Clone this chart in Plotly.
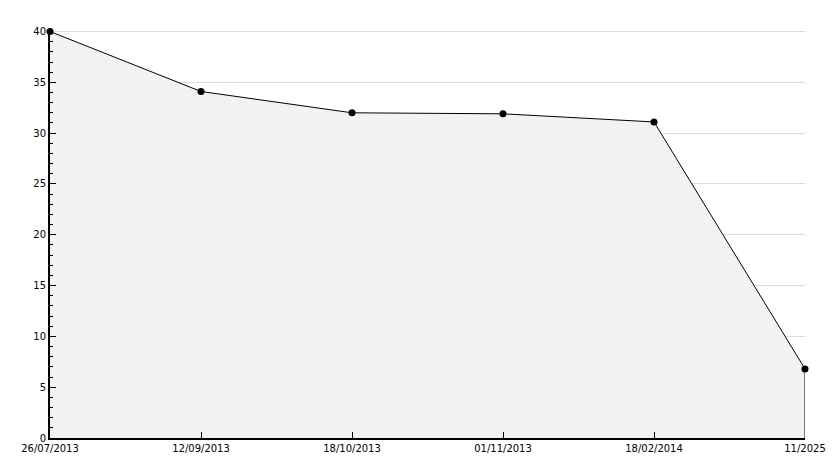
import plotly.graph_objects as go

dates = ["26/07/2013", "12/09/2013", "18/10/2013", "01/11/2013", "18/02/2014", "11/2025"]
values = [40, 34.1, 32.0, 31.9, 31.1, 6.8]

fig = go.Figure()

# shaded area under the line
fig.add_trace(go.Scatter(
    x=dates,
    y=values,
    mode="lines+markers",
    fill="tozeroy",
    fillcolor="#f2f2f2",
    line=dict(color="black", width=1),
    marker=dict(color="black", size=7, symbol="circle"),
    cliponaxis=False,
    hoverinfo="skip"
))

# closing edge on the right side of the area
fig.add_trace(go.Scatter(
    x=[dates[-1], dates[-1]],
    y=[0, values[-1]],
    mode="lines",
    line=dict(color="black", width=1),
    hoverinfo="skip"
))

fig.update_xaxes(
    type="category", range=[0, len(dates) - 1], automargin=False,
    showgrid=False, showline=True, linecolor="black", linewidth=2,
    ticks="inside", ticklen=6, tickcolor="black", tickwidth=1,
    tickfont=dict(family="DejaVu Sans", size=10, color="black"),
    zeroline=False
)
fig.update_yaxes(
    range=[0, 40.05], dtick=5, automargin=False,
    showgrid=True, gridcolor="#dcdcdc", gridwidth=1,
    showline=True, linecolor="black", linewidth=2,
    ticks="inside", ticklen=6, tickcolor="black", tickwidth=1,
    minor=dict(dtick=1, ticks="inside", ticklen=3, tickcolor="black", showgrid=False),
    tickfont=dict(family="DejaVu Sans", size=10, color="black"),
    zeroline=False
)

# top gridline sits on the plot edge, plotly drops it, so draw it by hand
fig.add_shape(type="line", xref="paper", yref="y", x0=0, x1=1, y0=40, y1=40,
              line=dict(color="#dcdcdc", width=1), layer="below")

# page body has an 8px margin, so the figure is shrunk to fit the window
fig.update_layout(
    width=826, height=460,
    margin=dict(l=42, r=29, t=23, b=30),
    plot_bgcolor="white", paper_bgcolor="white",
    showlegend=False
)

fig.write_html("out.html")
